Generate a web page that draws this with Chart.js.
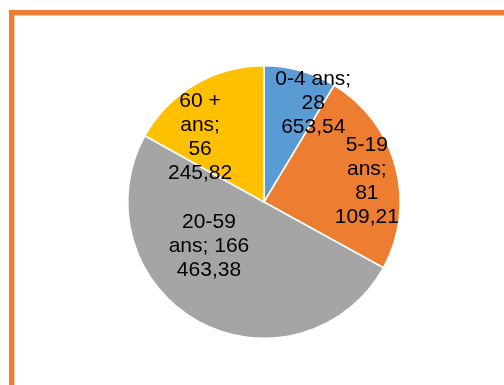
<!DOCTYPE html>
<html>
<head>
<meta charset="utf-8">
<script src="https://cdn.jsdelivr.net/npm/chart.js@4"></script>
<style>
  html, body { margin: 0; padding: 0; background: #fff; overflow: hidden; }
  #wrap { position: relative; width: 504px; height: 385px; }
  #frame {
    position: absolute; left: 9px; top: 10px; width: 600px; height: 500px;
    border: 5px solid #ED7D31; box-shadow: inset 1px 1px 0 #F8CBAD;
  }
  #pie { position: absolute; left: 0; top: 0; }
</style>
</head>
<body>
<div id="wrap">
  <div id="frame"></div>
  <canvas id="pie" width="504" height="385"></canvas>
</div>
<script>
const categories = ['0-4 ans', '5-19 ans', '20-59 ans', '60 + ans'];
const population = [28653.54, 81109.21, 166463.38, 56245.82];
const sliceColors = ['#5B9BD5', '#ED7D31', '#A5A5A5', '#FFC000'];

// where each label sits: fraction of radius, angle shift (deg) from the slice middle, wrap width
const labelPlace = [
    { r: 0.81, turn: 11, wrap: 82 },
    { r: 0.77, turn: 3.6, wrap: 66 },
    { r: 0.52, turn: 22, wrap: 88 },
    { r: 0.67, turn: -14, wrap: 66 }
];

// 28653.54 -> "28 653,54"
const frNumber = (v) => {
    let parts = v.toFixed(2).split('.');
    let whole = parts[0].replace(/\B(?=(\d{3})+(?!\d))/g, ' ');
    return whole + ',' + parts[1];
}

const wrapWords = (ctx, text, maxWidth) => {
    let words = text.split(' ');
    let lines = [];
    let line = '';
    words.forEach(w => {
        let test = line ? line + ' ' + w : w;
        if (line && ctx.measureText(test).width > maxWidth) {
            lines.push(line);
            line = w;
        } else {
            line = test;
        }
    });
    if (line) lines.push(line);
    return lines;
}

const sliceLabels = {
    id: 'sliceLabels',
    afterDatasetsDraw(chart) {
        const ctx = chart.ctx;
        const meta = chart.getDatasetMeta(0);
        ctx.save();
        ctx.font = '21px "Liberation Sans", Arial, sans-serif';
        ctx.fillStyle = '#000';
        ctx.textAlign = 'center';
        ctx.textBaseline = 'middle';
        const lineH = 24;
        meta.data.forEach((arc, i) => {
            const p = arc.getProps(['x', 'y', 'startAngle', 'endAngle', 'outerRadius'], true);
            const place = labelPlace[i];
            const mid = (p.startAngle + p.endAngle) / 2 + place.turn * Math.PI / 180;
            const cx = p.x + Math.cos(mid) * p.outerRadius * place.r;
            const cy = p.y + Math.sin(mid) * p.outerRadius * place.r;
            const text = categories[i] + '; ' + frNumber(population[i]);
            const lines = wrapWords(ctx, text, place.wrap);
            const top = cy - (lines.length - 1) * lineH / 2;
            lines.forEach((l, k) => ctx.fillText(l, cx, top + k * lineH));
        });
        ctx.restore();
    }
};

new Chart(document.getElementById('pie'), {
    type: 'pie',
    data: {
        labels: categories,
        datasets: [{
            data: population,
            backgroundColor: sliceColors,
            borderColor: '#fff',
            borderWidth: 1.5
        }]
    },
    options: {
        responsive: false,
        animation: false,
        layout: { padding: { left: 127, right: 103, top: 65, bottom: 46 } },
        plugins: {
            legend: { display: false },
            tooltip: { enabled: false }
        }
    },
    plugins: [sliceLabels]
});
</script>
</body>
</html>
